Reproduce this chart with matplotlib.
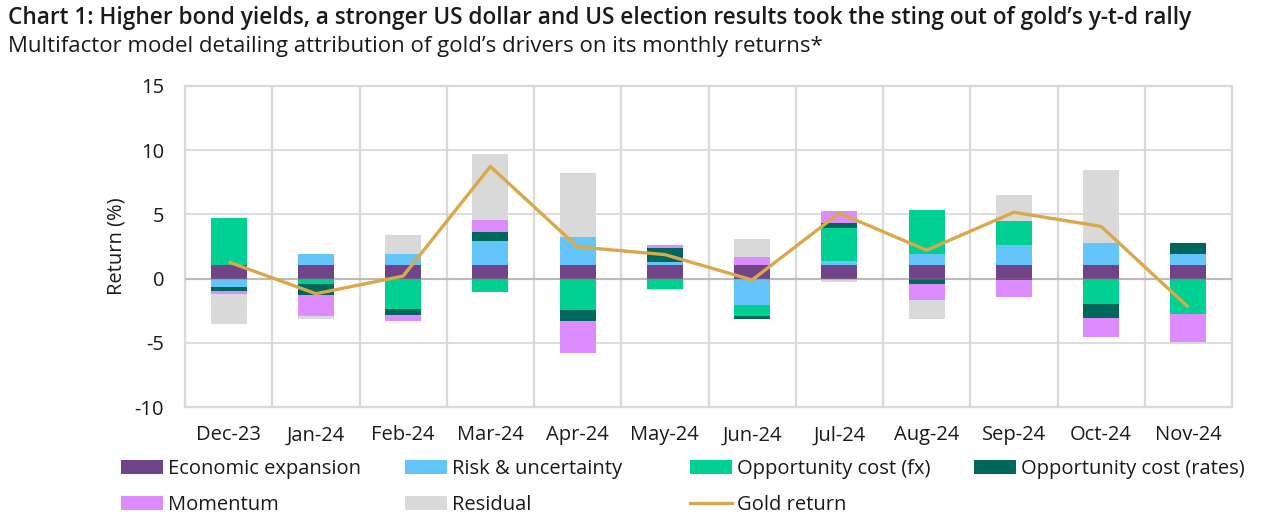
import numpy as np
import matplotlib
matplotlib.use("Agg")
import matplotlib.pyplot as plt
from matplotlib.patches import Patch
from matplotlib.lines import Line2D

plt.rcParams['font.family'] = ['Open Sans', 'DejaVu Sans']

# Data (monthly return attribution, %)
months = ['Dec-23', 'Jan-24', 'Feb-24', 'Mar-24', 'Apr-24', 'May-24',
          'Jun-24', 'Jul-24', 'Aug-24', 'Sep-24', 'Oct-24', 'Nov-24']
econ = [1.04, 1.04, 1.04, 1.04, 1.04, 1.04, 1.04, 1.04, 1.04, 1.04, 1.04, 1.04]
risk = [-0.68, 0.86, 0.86, 1.88, 2.19, 0.23, -2.08, 0.31, 0.86, 1.56, 1.72, 0.86]
opp_fx = [3.67, -0.44, -2.32, -1.07, -2.40, -0.83, -0.86, 2.58, 3.44, 1.88, -2.00, -2.71]
opp_rates = [-0.31, -0.86, -0.47, 0.70, -0.86, 1.09, -0.23, 0.39, -0.44, -0.10, -1.02, 0.86]
momentum = [-0.23, -1.64, -0.47, 0.94, -2.55, 0.23, 0.63, 0.94, -1.25, -1.30, -1.48, -2.19]
residual = [-2.27, -0.23, 1.48, 5.16, 5.00, -0.08, 1.41, -0.26, -1.48, 2.03, 5.70, -0.16]
gold = [1.30, -1.17, 0.20, 8.72, 2.47, 1.87, -0.10, 5.10, 2.21, 5.16, 4.06, -2.22]

series = [
    ('Economic expansion', econ, '#714388'),
    ('Risk & uncertainty', risk, '#64C5FB'),
    ('Opportunity cost (fx)', opp_fx, '#00D092'),
    ('Opportunity cost (rates)', opp_rates, '#00685A'),
    ('Momentum', momentum, '#DD8CFF'),
    ('Residual', residual, '#D9D9D9'),
]
gold_color = '#D9A84A'
grid_color = '#D9D9D9'
text_color = '#1A1A1A'

fig = plt.figure(figsize=(12.61, 5.23), dpi=100)
ax = fig.add_axes([185 / 1261, 1 - 407.3 / 523, 1047 / 1261, (407.3 - 85.7) / 523])

x = np.arange(len(months))
pos_bottom = np.zeros(len(months))
neg_bottom = np.zeros(len(months))
for name, vals, col in series:
    v = np.array(vals)
    bottoms = np.where(v >= 0, pos_bottom, neg_bottom)
    ax.bar(x, v, width=0.41, bottom=bottoms, color=col, zorder=2)
    pos_bottom += np.where(v >= 0, v, 0)
    neg_bottom += np.where(v < 0, v, 0)

ax.plot(x, gold, color=gold_color, lw=2.4, zorder=4, solid_capstyle='butt')
ax.axhline(0, color='#808080', alpha=0.35, lw=1.6, zorder=3)

ax.set_xlim(-0.5, len(months) - 0.5)
ax.set_ylim(-10, 15)
ax.set_yticks([-10, -5, 0, 5, 10, 15])
ax.set_yticklabels(['-10', '-5', '0', '5', '10', '15'])
ax.set_xticks(x)
ax.set_xticklabels(months)
ax.set_xticks(np.arange(len(months) + 1) - 0.5, minor=True)

ax.grid(axis='y', which='major', color=grid_color, lw=1.3, zorder=0)
ax.grid(axis='x', which='minor', color=grid_color, lw=1.6, zorder=0)
ax.grid(axis='x', which='major', visible=False)
for s in ax.spines.values():
    s.set_color(grid_color)
    s.set_linewidth(1.6)
ax.tick_params(which='both', length=0)
ax.tick_params(axis='x', pad=13, labelsize=14.5, labelcolor=text_color)
ax.tick_params(axis='y', pad=15, labelsize=14.5, labelcolor=text_color)
ax.set_ylabel('Return (%)', fontsize=14.5, color=text_color, labelpad=6)

fig.text(0.006, 0.966, 'Chart 1: Higher bond yields, a stronger US dollar and US election results took the sting out of gold’s y-t-d rally',
         fontsize=16.3, fontweight='semibold', color=text_color, va='center', ha='left')
fig.text(0.006, 0.911, 'Multifactor model detailing attribution of gold’s drivers on its monthly returns*',
         fontsize=16, color=text_color, va='center', ha='left')

# legend: four columns placed individually
handles = {name: Patch(facecolor=col, edgecolor='none') for name, vals, col in series}
handles['Gold return'] = Line2D([0], [0], color=gold_color, lw=2.4)
columns = [
    (121, ['Economic expansion', 'Momentum']),
    (405, ['Risk & uncertainty', 'Residual']),
    (690, ['Opportunity cost (fx)', 'Gold return']),
    (974, ['Opportunity cost (rates)']),
]
for xpix, names in columns:
    fig.legend([handles[n] for n in names], names, loc='upper left',
               bbox_to_anchor=(xpix / 1261, 1 - 459 / 523), frameon=False,
               fontsize=14.5, handlelength=2.1, handleheight=0.67, handletextpad=0.25,
               labelspacing=0.8, borderpad=0, borderaxespad=0, labelcolor=text_color)

fig.savefig('out.png', dpi=100)
